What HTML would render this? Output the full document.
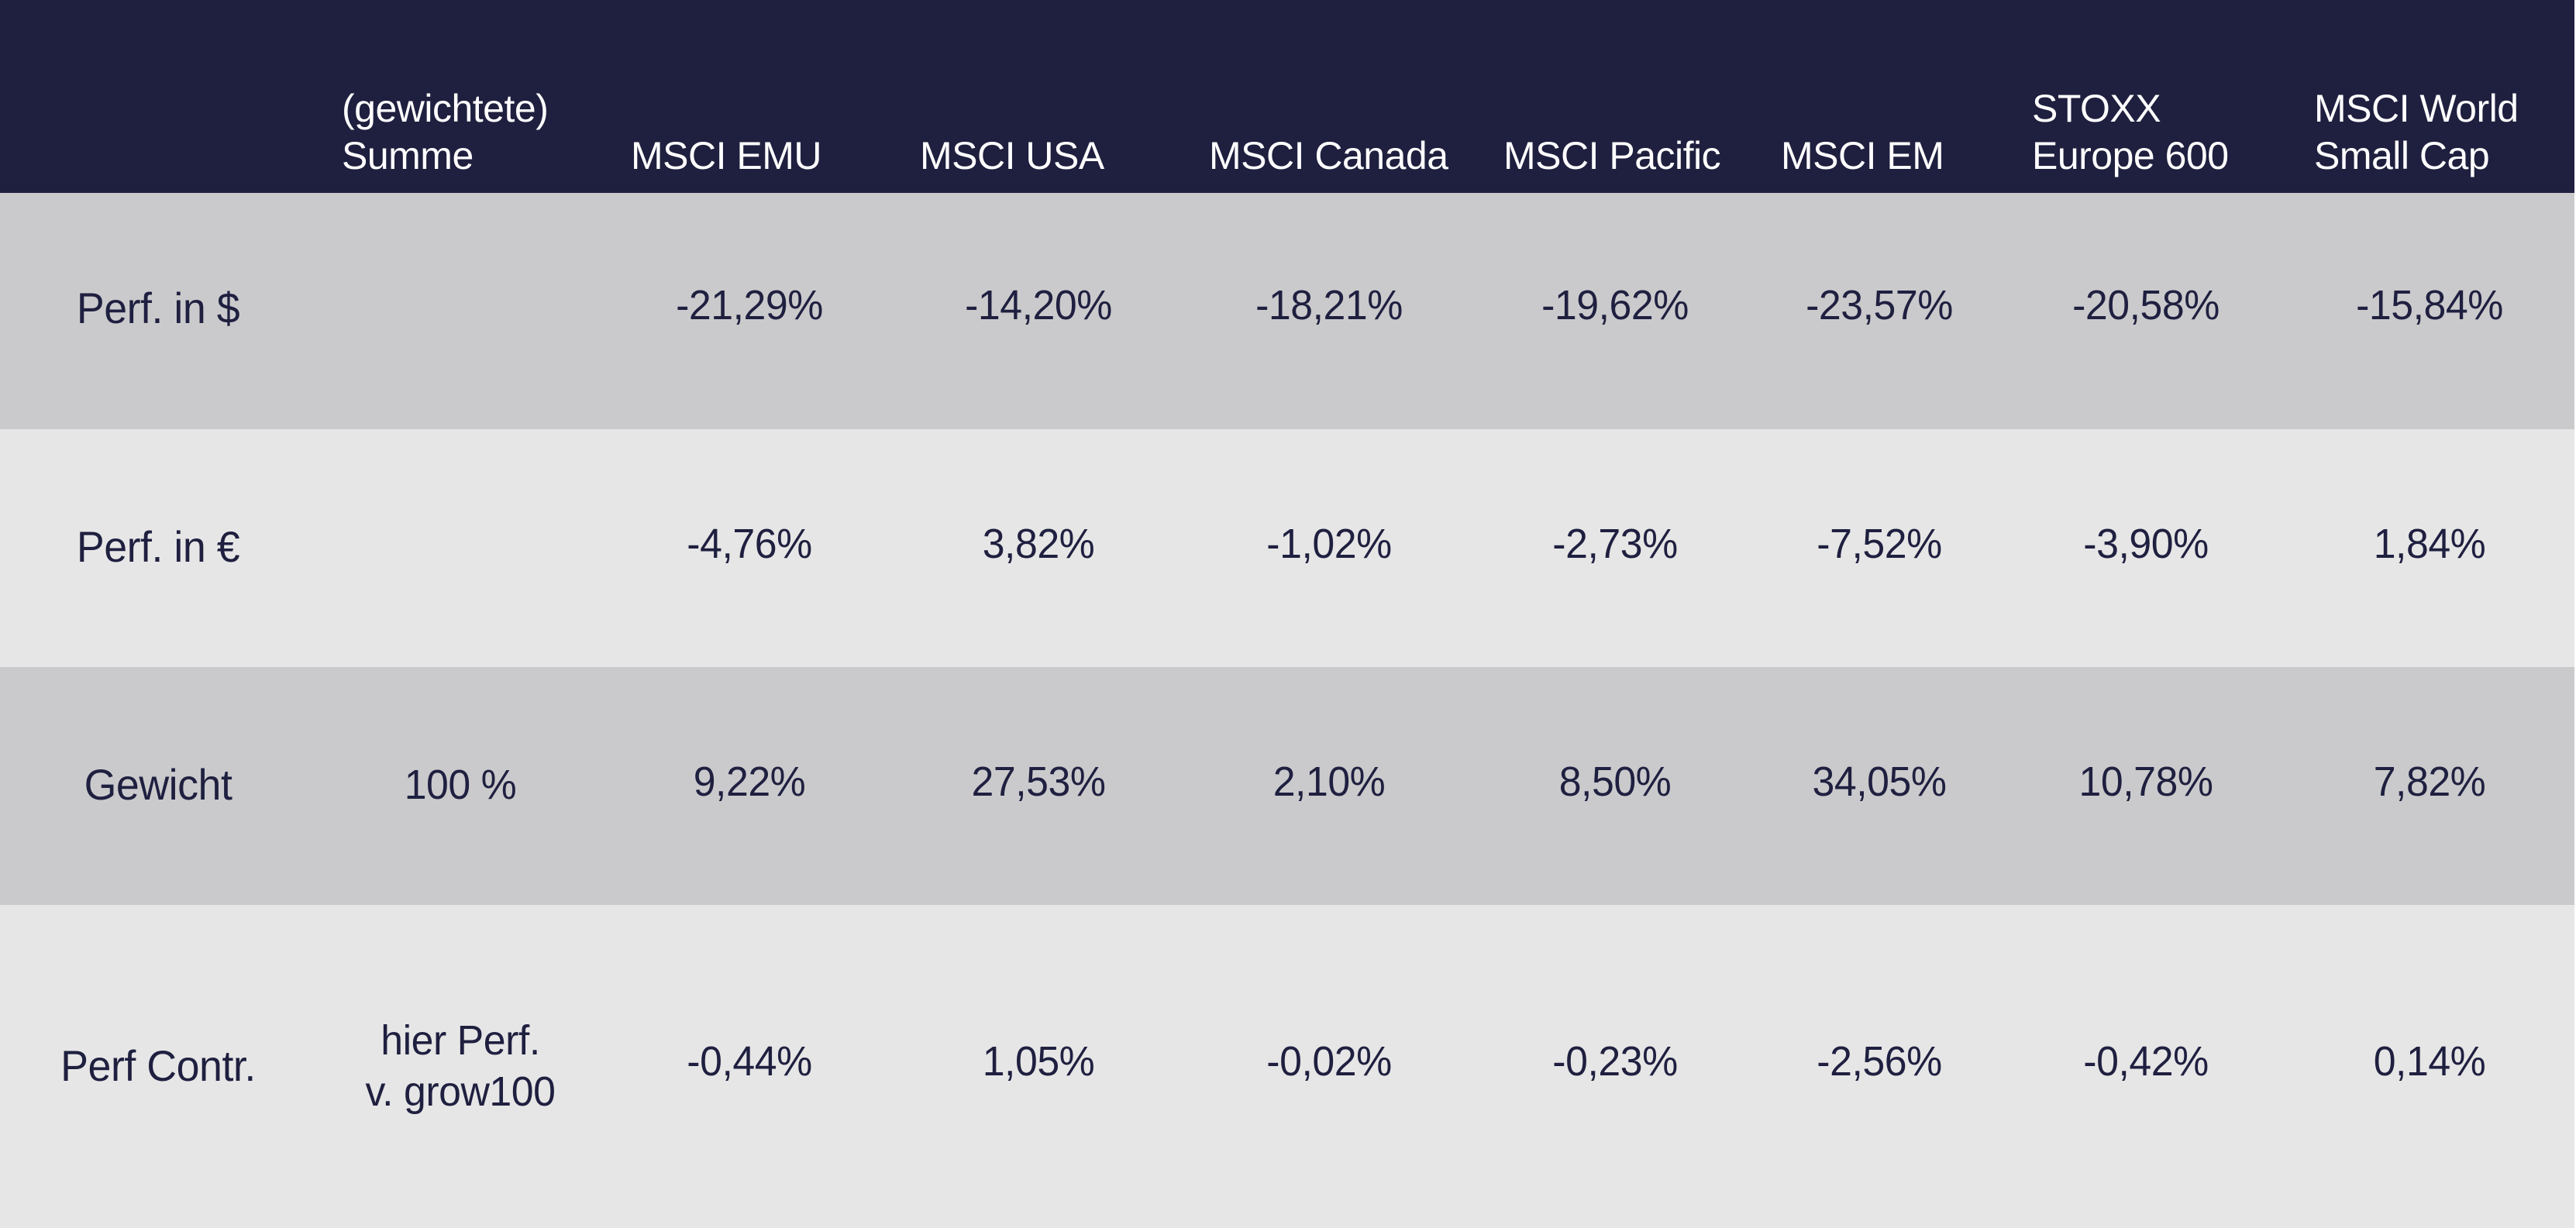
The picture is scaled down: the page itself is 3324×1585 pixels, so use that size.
<!DOCTYPE html>
<html><head><meta charset="utf-8"><style>
html,body{margin:0;padding:0}
body{width:3324px;height:1585px;position:relative;overflow:hidden;background:#fff;font-family:"Liberation Sans",sans-serif}
.b{position:absolute;left:0;width:3322px}
.h{position:absolute;color:#fff;font-size:50px;line-height:61px;letter-spacing:-0.5px}
.c{position:absolute;color:#1f2040;font-size:54px;line-height:66px;transform:translate(-50%,-50%) scaleX(0.96);white-space:nowrap;text-align:center;letter-spacing:-0.5px}
.l{font-size:56px}
</style></head><body>
<div class="b" style="top:0;height:249px;background:#1f1f3f"></div>
<div class="b" style="top:249px;height:305px;background:#cacacc"></div>
<div class="b" style="top:554px;height:307px;background:#e6e6e6"></div>
<div class="b" style="top:861px;height:307px;background:#cacacc"></div>
<div class="b" style="top:1168px;height:417px;background:#e6e6e6"></div>

<div class="h" style="left:441px;top:110px">(gewichtete)<br>Summe</div>
<div class="h" style="left:814px;top:171px">MSCI EMU</div>
<div class="h" style="left:1187px;top:171px">MSCI USA</div>
<div class="h" style="left:1560px;top:171px">MSCI Canada</div>
<div class="h" style="left:1940px;top:171px">MSCI Pacific</div>
<div class="h" style="left:2298px;top:171px">MSCI EM</div>
<div class="h" style="left:2622px;top:110px">STOXX<br>Europe 600</div>
<div class="h" style="left:2986px;top:110px">MSCI World<br>Small Cap</div>

<div class="c l" style="left:204px;top:398px">Perf. in $</div>
<div class="c" style="left:967px;top:394px">-21,29%</div>
<div class="c" style="left:1340px;top:394px">-14,20%</div>
<div class="c" style="left:1715px;top:394px">-18,21%</div>
<div class="c" style="left:2084px;top:394px">-19,62%</div>
<div class="c" style="left:2425px;top:394px">-23,57%</div>
<div class="c" style="left:2769px;top:394px">-20,58%</div>
<div class="c" style="left:3135px;top:394px">-15,84%</div>

<div class="c l" style="left:204px;top:706px">Perf. in €</div>
<div class="c" style="left:967px;top:702px">-4,76%</div>
<div class="c" style="left:1340px;top:702px">3,82%</div>
<div class="c" style="left:1715px;top:702px">-1,02%</div>
<div class="c" style="left:2084px;top:702px">-2,73%</div>
<div class="c" style="left:2425px;top:702px">-7,52%</div>
<div class="c" style="left:2769px;top:702px">-3,90%</div>
<div class="c" style="left:3135px;top:702px">1,84%</div>

<div class="c l" style="left:204px;top:1013px">Gewicht</div>
<div class="c" style="left:594px;top:1013px">100 %</div>
<div class="c" style="left:967px;top:1009px">9,22%</div>
<div class="c" style="left:1340px;top:1009px">27,53%</div>
<div class="c" style="left:1715px;top:1009px">2,10%</div>
<div class="c" style="left:2084px;top:1009px">8,50%</div>
<div class="c" style="left:2425px;top:1009px">34,05%</div>
<div class="c" style="left:2769px;top:1009px">10,78%</div>
<div class="c" style="left:3135px;top:1009px">7,82%</div>

<div class="c l" style="left:204px;top:1376px">Perf Contr.</div>
<div class="c" style="left:594px;top:1376px">hier Perf.<br>v. grow100</div>
<div class="c" style="left:967px;top:1370px">-0,44%</div>
<div class="c" style="left:1340px;top:1370px">1,05%</div>
<div class="c" style="left:1715px;top:1370px">-0,02%</div>
<div class="c" style="left:2084px;top:1370px">-0,23%</div>
<div class="c" style="left:2425px;top:1370px">-2,56%</div>
<div class="c" style="left:2769px;top:1370px">-0,42%</div>
<div class="c" style="left:3135px;top:1370px">0,14%</div>
</body></html>
